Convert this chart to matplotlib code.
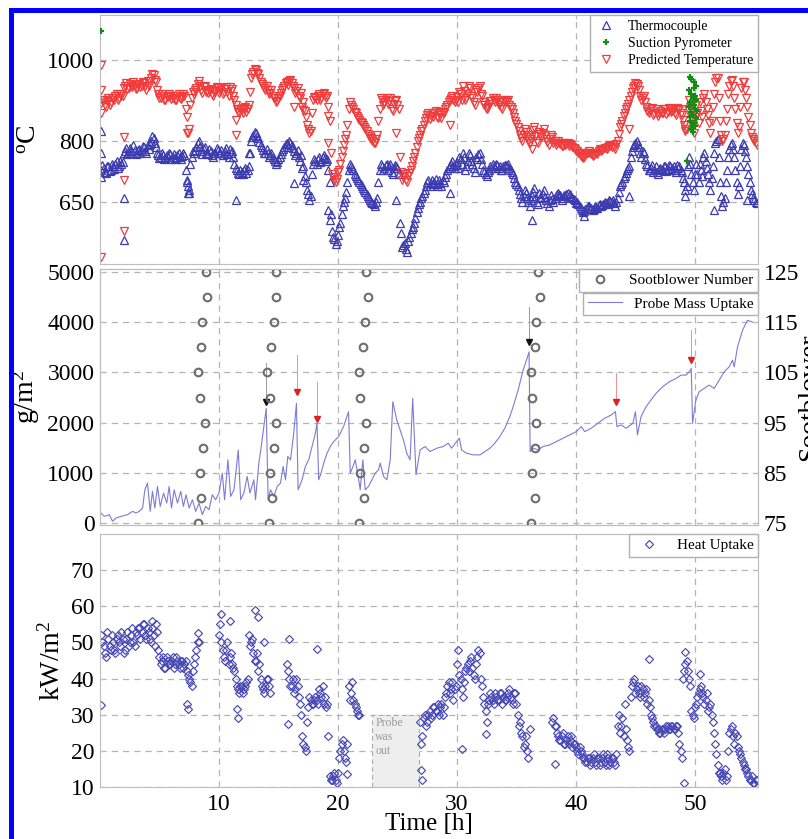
import numpy as np
import matplotlib
matplotlib.use('Agg')
import matplotlib.pyplot as plt
from matplotlib.lines import Line2D
from matplotlib.patches import Rectangle

plt.rcParams['font.family'] = 'Liberation Serif'
plt.rcParams['mathtext.fontset'] = 'custom'
plt.rcParams['mathtext.rm'] = 'Liberation Serif'
plt.rcParams['mathtext.it'] = 'Liberation Serif:italic'

nan = np.nan

# logging times of the probe channels [h]; two interleaved 12-min records
time_a = np.round(np.arange(0.1, 55.2, 0.2), 2)
time_b = np.round(np.arange(0.2, 55.3, 0.2), 2)

# thermocouple reading [degC]
tc_temp_a = [728, 735, 722, 740, 730, 738, 745, 735, 750, 748,
             775, 768, 782, 772, 778, 770, 780, 775, 785, 772,
             780, 800, 808, 785, 765, 760, 765, 758, 762, 768,
             762, 758, 765, 760, 763, 765, 700, 680, 760, 770,
             785, 800, 775, 780, 770, 768, 775, 762, 770, 778,
             772, 765, 775, 768, 780, 775, 745, 728, 718, 725,
             730, 722, 740, 800, 815, 820, 808, 790, 778, 770,
             770, 765, 760, 752, 748, 760, 775, 785, 795, 800,
             790, 775, 770, 760, 765, 740, 700, 670, 665, 745,
             750, 755, 748, 760, 758, 755, 700, 580, 560, 555,
             590, 620, 650, 675, 730, 740, 728, 715, 705, 695,
             685, 675, 665, 655, 648, 640, 660, 730, 740, 735,
             745, 738, 725, 735, 740, 720, 575, 545, 535, 555,
             575, 590, 610, 635, 650, 665, 680, 700, 690, 705,
             700, 695, 705, 690, 700, 720, 735, 745, 738, 742,
             735, 755, 770, 730, 750, 765, 745, 725, 755, 770,
             745, 725, 715, 730, 735, 740, 745, 735, 730, 738,
             742, 745, 730, 720, 700, 690, 670, 650, 680, 660,
             640, 665, 685, 650, 672, 660, 680, 655, 640, 668,
             650, 665, 672, 668, 660, 665, 672, 670, 660, 655,
             650, 640, 630, 628, 635, 640, 635, 632, 638, 642,
             640, 645, 648, 650, 652, 655, 640, 660, 690, 700,
             715, 730, 740, 775, 790, 800, 785, 760, 770, 745,
             730, 735, 725, 740, 720, 735, 728, 740, 732, 738,
             735, 730, 742, 738, 725, 700, 690, 760, 720, 680,
             745, 700, 730, 760, 750, 720, 680, 740, 795, 805,
             700, 640, 660, 730, 780, 795, 760, 700, 690, 780,
             790, 760, 720, 680, 660, 650]
tc_temp_b = [742, 725, 738, 726, 744, 732, 752, 740, 745, 770,
             784, 770, 776, 790, 768, 778, 772, 788, 776, 790,
             792, 812, 796, 772, 758, 770, 755, 766, 772, 757,
             768, 755, 770, 756, 772, 730, 672, 745, 775, 778,
             795, 788, 768, 785, 772, 780, 765, 772, 782, 770,
             778, 770, 782, 762, 770, 760, 735, 722, 730, 720,
             735, 728, 770, 810, 822, 812, 798, 785, 772, 780,
             760, 772, 755, 745, 755, 768, 780, 792, 785, 795,
             782, 765, 778, 752, 735, 715, 680, 655, 720, 755,
             745, 760, 752, 765, 750, 730, 620, 565, 548, 570,
             600, 640, 660, 700, 745, 735, 720, 710, 700, 690,
             680, 670, 660, 650, 645, 650, 700, 745, 730, 742,
             730, 745, 720, 742, 735, 600, 540, 550, 528, 565,
             585, 600, 625, 645, 660, 672, 690, 705, 698, 695,
             708, 690, 698, 705, 712, 728, 740, 750, 735, 748,
             760, 745, 762, 740, 772, 752, 735, 760, 768, 755,
             730, 720, 725, 740, 745, 735, 742, 738, 728, 742,
             738, 735, 725, 710, 695, 680, 660, 665, 672, 650,
             655, 675, 660, 645, 662, 670, 662, 648, 655, 658,
             660, 670, 665, 655, 668, 670, 665, 662, 658, 648,
             645, 635, 625, 632, 640, 636, 630, 640, 635, 645,
             642, 650, 645, 655, 650, 648, 650, 675, 695, 710,
             722, 735, 760, 785, 795, 792, 770, 775, 755, 738,
             728, 742, 730, 725, 732, 730, 738, 726, 742, 730,
             740, 725, 735, 730, 710, 680, 740, 745, 700, 720,
             720, 745, 715, 770, 735, 700, 710, 770, 800, 760,
             665, 650, 700, 760, 790, 780, 730, 670, 740, 795,
             775, 740, 700, 670, 655, 648]

# predicted gas temperature [degC]
pred_temp_a = [893, 900, 885, 905, 895, 905, 910, 900, 915, 912,
               935, 928, 940, 932, 938, 930, 940, 935, 942, 925,
               935, 955, 962, 945, 915, 905, 910, 900, 908, 912,
               905, 902, 910, 906, 908, 910, 860, 830, 905, 915,
               930, 948, 925, 932, 920, 918, 928, 912, 922, 930,
               925, 915, 928, 920, 932, 928, 900, 880, 870, 876,
               882, 872, 890, 955, 970, 975, 965, 945, 935, 925,
               925, 918, 912, 905, 898, 910, 925, 935, 945, 948,
               942, 930, 922, 912, 918, 895, 860, 830, 825, 900,
               905, 910, 902, 915, 912, 910, 850, 720, 705, 708,
               730, 760, 790, 815, 880, 890, 880, 868, 858, 848,
               840, 830, 818, 808, 800, 795, 815, 880, 900, 895,
               905, 898, 880, 892, 900, 880, 725, 712, 705, 715,
               730, 750, 770, 800, 815, 830, 850, 865, 855, 870,
               868, 860, 872, 858, 870, 885, 895, 905, 900, 902,
               895, 915, 935, 900, 915, 930, 905, 890, 920, 935,
               910, 888, 878, 892, 898, 900, 905, 890, 885, 895,
               900, 902, 885, 870, 850, 835, 815, 800, 830, 810,
               795, 815, 835, 800, 822, 810, 830, 805, 790, 815,
               795, 790, 800, 792, 788, 790, 795, 792, 785, 780,
               775, 768, 760, 762, 770, 775, 768, 765, 772, 776,
               775, 780, 782, 785, 788, 790, 780, 800, 835, 850,
               870, 885, 900, 920, 935, 940, 925, 900, 910, 885,
               870, 878, 865, 880, 862, 875, 868, 880, 872, 878,
               875, 870, 882, 878, 865, 840, 830, 900, 860, 820,
               890, 845, 875, 905, 895, 865, 820, 885, 945, 955,
               850, 800, 815, 880, 935, 950, 905, 845, 835, 930,
               945, 905, 860, 820, 805, 795]
pred_temp_b = [902, 888, 898, 890, 906, 900, 915, 905, 910, 930,
               942, 930, 936, 945, 928, 938, 932, 945, 935, 948,
               948, 965, 950, 925, 905, 915, 902, 912, 915, 903,
               912, 900, 915, 903, 915, 880, 820, 890, 920, 925,
               940, 935, 918, 935, 922, 925, 915, 920, 932, 918,
               930, 920, 932, 912, 922, 912, 888, 872, 880, 870,
               885, 878, 920, 965, 978, 968, 955, 940, 930, 935,
               915, 925, 905, 895, 905, 918, 930, 942, 938, 950,
               936, 918, 930, 905, 885, 875, 840, 820, 870, 908,
               900, 915, 905, 918, 905, 885, 770, 712, 700, 725,
               745, 775, 805, 840, 895, 885, 872, 862, 852, 845,
               835, 825, 812, 805, 795, 805, 850, 905, 890, 902,
               892, 905, 875, 898, 890, 760, 705, 718, 700, 722,
               740, 760, 785, 808, 825, 840, 858, 870, 862, 860,
               875, 858, 865, 872, 880, 890, 900, 910, 895, 908,
               920, 900, 922, 905, 935, 912, 895, 925, 930, 915,
               895, 882, 885, 898, 905, 895, 900, 895, 880, 898,
               895, 890, 880, 860, 842, 825, 808, 815, 822, 800,
               805, 828, 812, 795, 818, 820, 815, 798, 805, 810,
               800, 795, 795, 788, 796, 792, 788, 790, 782, 775,
               772, 764, 758, 766, 772, 770, 764, 770, 768, 780,
               778, 784, 780, 790, 785, 785, 792, 818, 842, 862,
               878, 892, 912, 930, 942, 935, 912, 905, 895, 875,
               875, 882, 870, 868, 870, 870, 880, 866, 882, 872,
               880, 865, 876, 870, 852, 825, 880, 885, 840, 860,
               870, 895, 860, 915, 880, 845, 850, 915, 955, 905,
               815, 805, 850, 915, 948, 935, 880, 820, 885, 945,
               925, 885, 840, 810, 800, 790]

# stray readings
tc_out_t = [0.1, 0.1, 0.1, 2.0, 2.0, 7.3, 7.4, 7.5, 11.4, 12.5, 16.3,
            17.1, 19.2, 19.3, 24.9, 29.4, 36.3, 40.7, 44.5, 49.2, 51.6, 54.4]
tc_out_v = [824, 770, 713, 660, 557, 705, 690, 672, 656, 770, 697,
            705, 631, 607, 656, 672, 607, 615, 664, 664, 631, 656]
pred_out_t = [0.1, 0.1, 0.1, 0.1, 2.0, 2.0, 2.0, 7.35, 11.4, 11.4,
              16.3, 17.1, 19.2, 19.2, 24.9, 29.4, 36.3, 40.7, 44.5, 49.2]
pred_out_v = [988, 926, 869, 516, 811, 705, 578, 820, 852, 816,
              885, 877, 795, 861, 820, 840, 780, 770, 830, 830]

# suction pyrometer traverses
suction_t = [0.1, 49.3, 49.6, 49.9, 49.5, 49.7, 49.8, 49.6, 49.9, 50.0,
             49.7, 49.8, 50.1, 49.6, 49.9, 50.0, 49.7, 49.8, 50.1, 50.2,
             49.5, 49.9, 50.0, 49.6, 49.8, 50.1, 49.7]
suction_v = [1070, 750, 958, 946, 925, 915, 905, 895, 888, 880,
             872, 865, 858, 850, 845, 838, 830, 822, 900, 875,
             885, 930, 912, 860, 840, 935, 952]

# probe mass uptake [g/m2]
mass_t = [0.08, 0.36, 0.78, 1.06, 1.34, 1.76, 2.32, 2.74, 3.02, 3.30,
          3.58, 3.77, 3.99, 4.22, 4.41, 4.61, 4.83, 5.06, 5.34, 5.61,
          5.81, 6.01, 6.23, 6.51, 6.79, 7.01, 7.23, 7.49, 7.77, 8.04,
          8.32, 8.60, 8.88, 9.16, 9.44, 9.72, 10.00, 10.28, 10.47, 10.75,
          10.98, 11.26, 11.62, 11.82, 12.09, 12.37, 12.60, 12.93, 13.07, 13.35,
          13.55, 13.77, 13.97, 14.13, 14.33, 14.61, 14.89, 15.17, 15.39, 15.59,
          15.78, 16.01, 16.28, 16.51, 16.65, 16.98, 17.26, 17.54, 17.82, 18.10,
          18.24, 18.38, 18.58, 18.80, 19.08, 19.36, 19.64, 20.06, 20.47, 20.75,
          20.89, 21.03, 21.26, 21.45, 21.65, 21.87, 22.09, 22.29, 22.57, 22.85,
          23.13, 23.41, 23.55, 23.83, 24.11, 24.39, 24.61, 24.94, 25.22, 25.50,
          25.78, 26.06, 26.28, 26.56, 26.90, 27.32, 27.74, 28.30, 28.85, 29.27,
          29.55, 29.97, 30.20, 30.39, 30.81, 31.37, 31.93, 32.35, 32.77, 33.18,
          33.60, 34.02, 34.44, 34.72, 35.14, 35.56, 35.84, 36.06, 36.15, 36.40,
          36.81, 37.23, 37.79, 38.35, 38.90, 39.47, 40.03, 40.45, 40.73, 41.28,
          41.84, 42.40, 42.96, 43.32, 43.44, 43.80, 44.22, 44.78, 45.00, 45.17,
          45.47, 45.89, 46.31, 46.73, 47.29, 47.85, 48.41, 48.83, 49.25, 49.53,
          49.69, 49.80, 50.08, 50.36, 50.78, 51.20, 51.62, 52.04, 52.46, 52.88,
          53.16, 53.30, 53.58, 54.00, 54.41, 54.83]
mass_v = [199, 132, 166, 33, 99, 132, 166, 232, 199, 232,
          298, 662, 795, 232, 629, 298, 728, 331, 596, 397,
          728, 298, 662, 397, 629, 331, 563, 298, 463, 232,
          397, 166, 331, 265, 563, 463, 596, 993, 463, 1258,
          530, 662, 1457, 463, 596, 927, 596, 861, 463, 1192,
          1523, 1920, 2284, 463, 662, 530, 728, 795, 1126, 861,
          1324, 1258, 1788, 2384, 662, 861, 1126, 1258, 1523, 1788,
          1987, 861, 993, 1192, 1391, 1523, 1622, 1722, 1920, 2119,
          2218, 993, 1126, 1258, 993, 662, 1258, 662, 728, 861,
          993, 1059, 1192, 927, 861, 1258, 2417, 2053, 1854, 1655,
          1390, 1258, 2483, 960, 1456, 1523, 1423, 1490, 1523, 1589,
          1490, 1622, 1688, 1456, 1390, 1357, 1357, 1423, 1490, 1589,
          1721, 1887, 2118, 2317, 2648, 3045, 3244, 3409, 1423, 1490,
          1456, 1523, 1556, 1622, 1688, 1754, 1821, 1920, 1821, 1887,
          1986, 2085, 2152, 2218, 1920, 1953, 1887, 1986, 2218, 1754,
          2118, 2317, 2449, 2582, 2714, 2814, 2880, 2946, 2946, 3012,
          3078, 1986, 2449, 2615, 2681, 2747, 2681, 2847, 3012, 3111,
          3244, 3111, 3509, 3840, 4038, 4005]

# sootblowers fired during the test, four sequences
sb_number = [75, 80, 85, 90, 95, 100, 105, 110, 115, 120, 125]
sb_times = [[8.24, 8.46, 8.38, 8.66, 8.85, 8.38, 8.24, 8.46, 8.60, 8.97, 8.88],
            [14.19, 14.47, 14.27, 14.61, 14.75, 14.27, 14.05, 14.41, 14.61, 14.83, 14.75],
            [21.73, 22.15, 21.87, 22.15, 22.37, 21.87, 21.73, 22.09, 22.23, 22.51, 22.37],
            [36.20, 36.53, 36.34, 36.53, 36.67, 36.34, 36.20, 36.53, 36.62, 36.96, 36.82]]

# marked shedding events
event_t = [13.97, 16.55, 18.24, 36.06, 43.40, 49.70]
event_tip = [2320, 2520, 1990, 3510, 2320, 3150]
event_top = [3180, 3340, 2810, 4300, 2980, 3840]
event_col = ['black', 'red', 'red', 'black', 'red', 'red']

# heat uptake [kW/m2], nan while probe was retracted / no data
heat_a = [52, 49, 46, 51, 48, 50, 47, 52, 49, 51,
          48, 53, 50, 54, 49, 52, 54, 53, 55, 51,
          53, 50, 52, 55, 48, 44, 46, 43, 45, 44,
          46, 44, 45, 43, 45, 44, 42, 40, 38, 44,
          48, 50, nan, nan, nan, nan, nan, nan, nan, nan,
          55, 48, 45, 50, 46, 44, 42, 38, 36, 38,
          37, 39, 52, 50, 47, 45, 42, 40, 37, 38,
          40, 36, nan, nan, nan, nan, nan, nan, 44, 40,
          38, 36, 40, 35, 30, 22, 20, 32, 34, 33,
          35, 33, 36, 38, 35, 33, 13, 12, 14, 11,
          18, 22, 20, 17, 38, 36, 34, 32, 30, nan,
          nan, nan, nan, nan, nan, nan, nan, nan, nan, nan,
          nan, nan, nan, nan, nan, nan, nan, nan, nan, nan,
          nan, nan, nan, nan, 28, 24, 30, 28, 31, 30,
          32, 31, 30, 33, 32, 36, 39, 37, 34, 38,
          48, 40, 35, 42, 44, 45, 43, 40, 46, 47,
          38, 33, 28, 34, 35, 33, 35, 34, 36, 35,
          34, 36, 35, 33, 36, 30, 28, 24, 22, 20,
          26, nan, nan, nan, nan, nan, nan, nan, nan, nan,
          29, 27, 24, 23, 25, 22, 24, 23, 21, 22,
          20, 21, 19, 18, 17, 18, 17, 19, 16, 18,
          17, 19, 16, 18, 17, 18, 16, 27, 25, 29,
          33, 23, 20, 38, 40, 37, 36, 38, 35, 37,
          34, 30, 28, 27, 26, 25, 26, 26, 27, 26,
          27, 26, 27, 22, 18, 42, 45, 40, 31, 29,
          33, 36, 38, 35, 34, 31, 33, 28, 22, 16,
          14, 12, 15, 13, 25, 27, 22, 24, 20, 18,
          16, 15, 13, 12, 11, 12]
heat_b = [50, 47, 53, 49, 52, 48, 51, 50, 53, 47,
          51, 49, 52, 50, 53, 54, 51, 55, 52, 54,
          51, 54, 49, 53, 46, 45, 43, 46, 44, 45,
          43, 46, 44, 45, 43, 45, 41, 39, 42, 46,
          50, nan, nan, nan, nan, nan, nan, nan, nan, 52,
          50, 46, 48, 44, 47, 43, 40, 37, 38, 36,
          38, 40, 49, 51, 45, 47, 44, 38, 36, 40,
          38, nan, nan, nan, nan, nan, nan, nan, 42, 38,
          40, 37, 38, 33, 24, 21, 28, 35, 33, 34,
          34, 37, 35, 33, 32, 24, 12, 13, 12, 14,
          20, 23, 18, 22, 34, 39, 33, 31, 30, nan,
          nan, nan, nan, nan, nan, nan, nan, nan, nan, nan,
          nan, nan, nan, nan, nan, nan, nan, nan, nan, nan,
          nan, nan, nan, nan, 22, 29, 27, 30, 29, 32,
          31, 33, 32, 30, 35, 38, 36, 39, 37, 44,
          41, 37, 39, 43, 42, 46, 41, 44, 48, 40,
          35, 31, 33, 36, 34, 36, 34, 36, 33, 34,
          35, 37, 34, 36, 33, 27, 25, 21, 24, 18,
          nan, nan, nan, nan, nan, nan, nan, nan, nan, 28,
          27, 25, 23, 24, 22, 23, 22, 24, 22, 21,
          19, 20, 18, 17, 18, 16, 18, 17, 18, 16,
          18, 17, 19, 16, 18, 17, 19, 30, 27, 24,
          26, 21, 35, 39, 36, 38, 35, 37, 36, 33,
          32, 29, 27, 26, 25, 26, 25, 27, 26, 27,
          26, 27, 25, 20, 40, 44, 42, 38, 30, 32,
          35, 37, 36, 33, 36, 32, 30, 25, 19, 14,
          13, 14, 12, 20, 26, 24, 25, 21, 19, 17,
          15, 14, 12, 13, 11, 12]
heat_out_t = [0.1, 4.4, 7.3, 7.4, 8.2, 10.2, 10.9, 11.5, 11.6, 13.0, 13.3,
              13.8, 15.9, 15.8, 18.2, 20.8, 27.0, 27.1, 30.4, 32.4, 38.2,
              46.1, 49.1, 49.2, 50.4, 55.2]
heat_out_v = [32.6, 56, 33, 31.5, 52.5, 58, 56, 31.7, 29, 59, 57,
              50, 51, 27.5, 48.3, 13.7, 14.6, 12, 20.6, 24.8, 16.5,
              45.5, 11, 47.4, 41.4, 11.8]

# probe out of the boiler
out_start, out_end, out_top = 22.9, 26.8, 30

blue = '#3c3cb0'
red = '#f03c3c'
green = '#128c12'
grey = '#6e6e6e'
spine_col = '#bdbdbd'

fig = plt.figure(figsize=(8.08, 8.39), dpi=100)
W, H = 808.0, 839.0


def px_box(left, top, right, bottom):
    return [left / W, 1 - bottom / H, (right - left) / W, (bottom - top) / H]


ax1 = fig.add_axes(px_box(100, 15, 758, 264))
ax2 = fig.add_axes(px_box(100, 269, 758, 525))
ax3 = fig.add_axes(px_box(100, 534, 758, 787))

for ax in (ax1, ax2, ax3):
    ax.set_xlim(0, 55.3)
    ax.set_xticks([10, 20, 30, 40, 50])
    ax.grid(True, color='#b4b4b4', linestyle=(0, (5, 4)), linewidth=0.9)
    ax.set_axisbelow(True)
    for s in ax.spines.values():
        s.set_color(spine_col)
    ax.tick_params(direction='in', length=3, color=spine_col, labelsize=17,
                   top=True, right=True, pad=4)
ax1.tick_params(labelbottom=False)
ax2.tick_params(labelbottom=False, right=False)
ax3.tick_params(axis='x', pad=5)

# temperatures
tri = dict(ms=5.5, mfc='none', mew=0.9, ls='none')
ax1.plot(time_a, tc_temp_a, '^', mec=blue, label='Thermocouple', **tri)
ax1.plot(time_b, tc_temp_b, '^', mec=blue, **tri)
ax1.plot(tc_out_t, tc_out_v, '^', mec=blue, **tri)
ax1.plot(time_a, pred_temp_a, 'v', mec=red, label='Predicted Temperature', **tri)
ax1.plot(time_b, pred_temp_b, 'v', mec=red, **tri)
ax1.plot(pred_out_t, pred_out_v, 'v', mec=red, **tri)
ax1.plot(suction_t, suction_v, '+', ms=5, color=green, mew=1.6, ls='none',
         label='Suction Pyrometer', zorder=3)
ax1.set_ylim(498, 1110)
ax1.set_yticks([650, 800, 1000])
ax1.set_ylabel(r'$^{\rm o}$C', fontsize=20)
ax1.yaxis.set_label_coords(-0.088, 0.5)
h, l = ax1.get_legend_handles_labels()
order = [0, 2, 1]
ax1.legend([h[i] for i in order], [l[i] for i in order], loc='upper right',
           fontsize=10, fancybox=False, edgecolor='#b0b0b0', framealpha=1,
           borderaxespad=0, borderpad=0.35, labelspacing=0.3,
           handlelength=1.6, handletextpad=0.8)

# mass uptake and sootblowers
ax2.plot(mass_t, mass_v, '-', color='#7c7cd2', lw=0.8, label='Probe Mass Uptake')
for t, top, tip, c in zip(event_t, event_top, event_tip, event_col):
    line_c = '#9a9a9a' if c == 'black' else '#f29090'
    head_c = '#111111' if c == 'black' else '#e02020'
    ax2.plot([t, t], [top, tip + 80], '-', color=line_c, lw=0.7)
    ax2.plot(t, tip + 90, 'v', ms=5, color=head_c, mec=head_c)
ax2.set_ylim(-40, 5060)
ax2.set_yticks(range(0, 5001, 1000))
ax2.set_ylabel('g/m$^2$', fontsize=20)
ax2.yaxis.set_label_coords(-0.088, 0.5)

ax2r = ax2.twinx()
for k, ts in enumerate(sb_times):
    ax2r.plot(ts, sb_number, 'o', ms=5.5, mfc='none', mec=grey, mew=1.5,
              ls='none', label='Sootblower Number' if k == 0 else None)
ax2r.set_ylim(74.6, 125.6)
ax2r.set_yticks([75, 85, 95, 105, 115, 125])
for s in ax2r.spines.values():
    s.set_color(spine_col)
ax2r.tick_params(direction='in', length=3, color=spine_col, labelsize=17, pad=4)
ax2r.set_ylabel('Sootblower', fontsize=20)
ax2r.yaxis.set_label_coords(1.059, 0.5)
ax2r.legend(loc='upper right', fontsize=11, fancybox=False, edgecolor='#b0b0b0',
            framealpha=1, borderaxespad=0, borderpad=0.3, handlelength=2.2,
            handletextpad=0.8)
ax2.legend(loc='upper right', bbox_to_anchor=(1.0, 0.908), fontsize=11,
           fancybox=False, edgecolor='#b0b0b0', framealpha=1, borderaxespad=0,
           borderpad=0.3, handlelength=2.2, handletextpad=0.8)

# heat uptake
ax3.add_patch(Rectangle((out_start, 10), out_end - out_start, out_top - 10,
                        facecolor='#eeeeee', edgecolor='#a8a8a8', lw=0.8,
                        linestyle=(0, (4, 3)), zorder=1))
ax3.text(out_start + 0.25, out_top - 0.7, 'Probe\nwas\nout', ha='left', va='top',
         fontsize=8.5, color='#9a9a9a', linespacing=1.2)
dia = dict(ms=4.5, mfc='none', mec='#4a4ab4', mew=0.85, ls='none')
ax3.plot(time_a, heat_a, 'D', label='Heat Uptake', **dia)
ax3.plot(time_b, heat_b, 'D', **dia)
ax3.plot(heat_out_t, heat_out_v, 'D', **dia)
ax3.set_ylim(10, 80)
ax3.set_yticks(range(10, 71, 10))
ax3.set_ylabel('kW/m$^2$', fontsize=20)
ax3.yaxis.set_label_coords(-0.053, 0.5)
ax3.set_xlabel('Time [h]', fontsize=18)
ax3.xaxis.set_label_coords(0.5, -0.103)
ax3.legend(loc='upper right', fontsize=11, fancybox=False, edgecolor='#b0b0b0',
           framealpha=1, borderaxespad=0, borderpad=0.3, handlelength=2.0,
           handletextpad=0.8)

# page frame
fig.add_artist(Line2D([10.5 / W, 10.5 / W], [0, 1 - 9.5 / H], color='#0000ff',
                      lw=3.6, solid_capstyle='projecting'))
fig.add_artist(Line2D([10.5 / W, 1], [1 - 9.5 / H, 1 - 9.5 / H], color='#0000ff',
                      lw=3.6, solid_capstyle='projecting'))

fig.savefig('out.png', dpi=100)
